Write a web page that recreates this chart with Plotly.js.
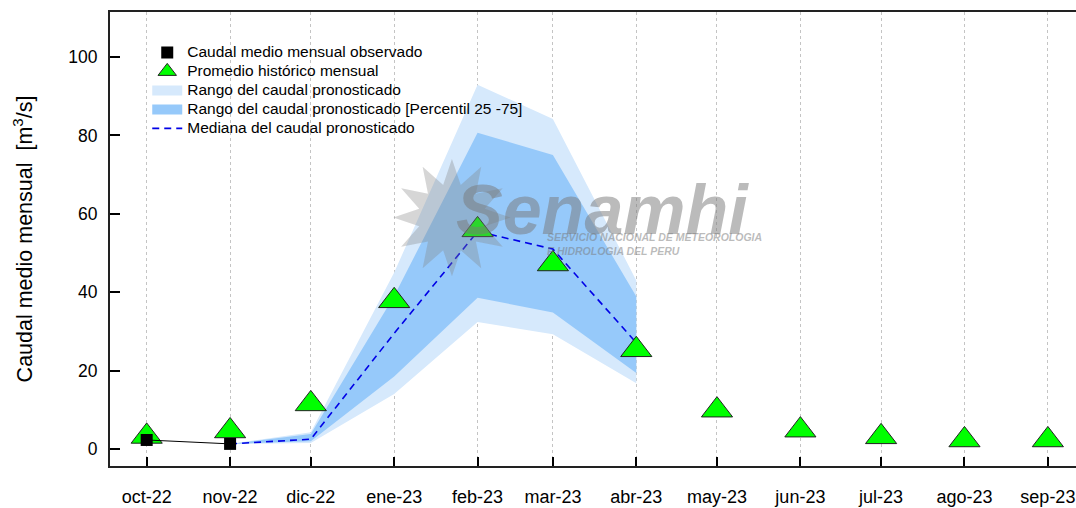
<!DOCTYPE html>
<html>
<head>
<meta charset="utf-8">
<script src="https://cdn.plot.ly/plotly-3.0.1.min.js"></script>
<style>
html,body{margin:0;padding:0;overflow:hidden;background:#fff;}
#chart{width:1090px;height:508px;}
</style>
</head>
<body>
<div id="chart"></div>
<script>
// ---- data ----
const months = ['2022-10-01','2022-11-01','2022-12-01','2023-01-01','2023-02-01','2023-03-01',
                '2023-04-01','2023-05-01','2023-06-01','2023-07-01','2023-08-01','2023-09-01'];
const monthLabels = ['oct-22','nov-22','dic-22','ene-23','feb-23','mar-23',
                     'abr-23','may-23','jun-23','jul-23','ago-23','sep-23'];
const obsMonths = ['2022-10-01','2022-11-01'];
const observed = [2.3, 1.3];
const historical = [3.2, 4.6, 11.5, 37.8, 55.9, 47.2, 25.3, 9.9, 4.8, 3.1, 2.3, 2.3];
const fcMonths = ['2022-11-01','2022-12-01','2023-01-01','2023-02-01','2023-03-01','2023-04-01'];
const fcMin = [1.3, 1.5, 14.0, 32.4, 29.3, 16.8];
const fcP25 = [1.3, 2.0, 18.5, 38.6, 34.8, 19.4];
const fcMed = [1.3, 2.5, 29.5, 55.5, 51.0, 27.1];
const fcP75 = [1.3, 3.8, 39.0, 80.7, 75.0, 38.9];
const fcMax = [1.3, 4.3, 45.0, 92.9, 84.2, 43.0];

const rev = a => a.slice().reverse();
const FONT = 'Liberation Sans, Arial, sans-serif';
const OUTER = 'rgb(214,233,252)';
const INNER = 'rgb(150,201,250)';
const lg = t => '<span style="font-size:15.5px">' + t + '</span>';

const traces = [
  { x: fcMonths.concat(rev(fcMonths)), y: fcMax.concat(rev(fcMin)),
    type: 'scatter', mode: 'lines', fill: 'toself', fillcolor: OUTER,
    line: {width: 0, color: OUTER}, hoverinfo: 'skip', showlegend: false },
  { x: fcMonths.concat(rev(fcMonths)), y: fcP75.concat(rev(fcP25)),
    type: 'scatter', mode: 'lines', fill: 'toself', fillcolor: INNER,
    line: {width: 0, color: INNER}, hoverinfo: 'skip', showlegend: false },
  { x: fcMonths, y: fcMed, type: 'scatter', mode: 'lines',
    line: {color: 'rgb(0,0,230)', width: 1.6, dash: '7px,5px'},
    name: lg('Mediana del caudal pronosticado'), legendrank: 5 },
  { x: months, y: historical, type: 'scatter', mode: 'markers',
    marker: {symbol: 'triangle-up', size: 27, color: 'rgb(0,255,0)',
             line: {color: '#222', width: 1}},
    name: lg('Promedio histórico mensual'), legendrank: 2 },
  { x: obsMonths, y: observed, type: 'scatter', mode: 'lines',
    line: {color: '#000', width: 1}, showlegend: false },
  { x: obsMonths, y: observed, type: 'scatter', mode: 'markers',
    marker: {symbol: 'square', size: 12, color: '#000'},
    name: lg('Caudal medio mensual observado'), legendrank: 1 },
  // legend keys for the two ranges
  { x: [null], y: [null], type: 'scatter', mode: 'lines',
    line: {color: OUTER, width: 14}, name: lg('Rango del caudal pronosticado'), legendrank: 3 },
  { x: [null], y: [null], type: 'scatter', mode: 'lines',
    line: {color: INNER, width: 14}, name: lg('Rango del caudal pronosticado [Percentil 25 -75]'), legendrank: 4 }
];

const layout = {
  width: 1090, height: 508,
  margin: {l: 110, r: 0, t: 12, b: 42},
  paper_bgcolor: '#fff', plot_bgcolor: '#fff',
  font: {family: FONT, color: '#000', size: 16},
  showlegend: true,
  legend: {x: 0.038, y: 0.943, xanchor: 'left', yanchor: 'top',
           bgcolor: 'rgba(0,0,0,0)', font: {family: FONT, size: 12, color: '#000'},
           itemwidth: 30, tracegroupgap: 0},
  xaxis: {
    type: 'date',
    range: ['2022-09-17 08:38', '2023-09-16 15:50'],
    tickmode: 'array', tickvals: months, ticktext: monthLabels,
    ticks: 'inside', ticklen: 9, tickwidth: 2, tickcolor: '#000',
    showline: true, linecolor: '#222', linewidth: 2, mirror: true,
    showgrid: true, gridcolor: '#c4c4c4', gridwidth: 1, griddash: 'dot',
    zeroline: false, tickfont: {family: FONT, size: 18, color: '#000'},
    ticklabelstandoff: 13, fixedrange: true
  },
  yaxis: {
    range: [-4.34, 111.48],
    tickmode: 'array', tickvals: [0,20,40,60,80,100],
    ticks: 'inside', ticklen: 10, tickwidth: 2, tickcolor: '#000',
    showline: true, linecolor: '#222', linewidth: 2, mirror: true,
    showgrid: false, zeroline: false,
    tickfont: {family: FONT, size: 17.5, color: '#000'},
    ticklabelstandoff: 7,
    title: {text: 'Caudal medio mensual  [m<sup>3</sup>/s]', font: {family: FONT, size: 21.5, color: '#000'}, standoff: 30},
    automargin: false, fixedrange: true
  },
  annotations: [
    {xref: 'paper', yref: 'paper', x: (385-110)/980, y: (466-220)/454, text: '✹',
     showarrow: false, font: {family: 'DejaVu Sans', size: 155, color: 'rgba(130,130,130,0.33)'}},
    {xref: 'paper', yref: 'paper', x: (602-110)/980, y: (466-210)/454, text: '<b><i>Senamhi</i></b>',
     showarrow: false, font: {family: FONT, size: 70, color: 'rgba(120,120,120,0.5)'}},
    {xref: 'paper', yref: 'paper', x: (545-110)/980, xanchor: 'left', y: (466-244)/454, align: 'left',
     text: '<b><i>SERVICIO NACIONAL DE METEOROLOGIA<br>E HIDROLOGIA DEL PERU</i></b>',
     showarrow: false, font: {family: FONT, size: 10.5, color: 'rgba(120,120,120,0.5)'}}
  ]
};

Plotly.newPlot('chart', traces, layout, {displayModeBar: false, staticPlot: true});
</script>
</body>
</html>
